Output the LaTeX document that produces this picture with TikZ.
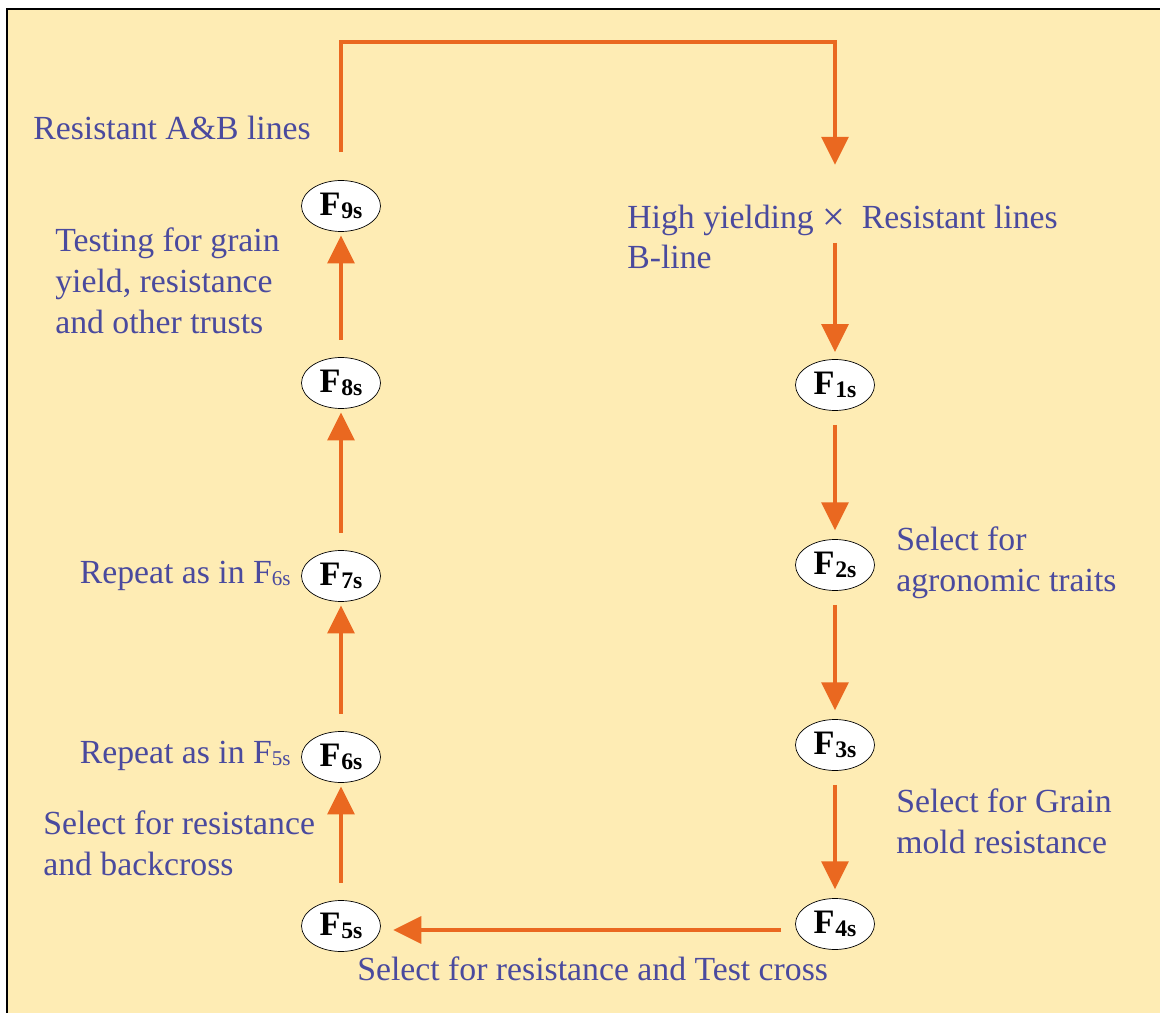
\documentclass[tikz,border=0pt]{standalone}
\usepackage{fontspec}
\setmainfont{Liberation Serif}
\usetikzlibrary{arrows.meta}
\usetikzlibrary{shapes.geometric}

\definecolor{paper}{HTML}{FEECB4}
\definecolor{flowcol}{HTML}{EA6820}
\definecolor{inkblue}{HTML}{4A4A9E}

\tikzset{
  gen/.style={ellipse, draw=black, fill=white, thin, minimum width=1.58cm,
    minimum height=1.02cm, inner sep=0pt},
  flow/.style={draw=flowcol, line width=2.8pt,
    -{Triangle[length=16pt,width=15pt]}},
  note/.style={text=inkblue, inner sep=0pt, align=left,
    font=\fontsize{19.2}{23.2}\selectfont}
}
\newcommand{\gen}[1]{{\fontsize{19.5}{19.5}\selectfont\bfseries F\kern0.5pt\raisebox{-0.15ex}{\fontsize{13.5}{13.5}\selectfont #1s}}}
\newcommand{\gensmall}[1]{F\raisebox{-0.1ex}{\fontsize{12}{12}\selectfont #1s}}

\begin{document}
\begin{tikzpicture}[x=0.02cm, y=-0.02cm]
\useasboundingbox (0,0) rectangle (1160,1013);
\fill[paper] (7,9) rectangle (1160,1013);
\draw[line width=1.2pt] (7,1013) -- (7,9) -- (1160,9);

% generations, left column
\node[gen] (f9) at (341,206) {\gen{9}};
\node[gen] (f8) at (341,383) {\gen{8}};
\node[gen] (f7) at (341,576) {\gen{7}};
\node[gen] (f6) at (341,757) {\gen{6}};
\node[gen] (f5) at (341,926) {\gen{5}};
% generations, right column
\node[gen] (f1) at (835,385) {\gen{1}};
\node[gen] (f2) at (835,565) {\gen{2}};
\node[gen] (f3) at (835,745) {\gen{3}};
\node[gen] (f4) at (835,924) {\gen{4}};

% notes
\node[note, anchor=west] (ablines) at (33,128) {Resistant A\&B lines};
\node[note, anchor=west] (testing) at (55,281) {Testing for grain\\yield, resistance\\and other trusts};
\node[note, anchor=east] (rep6) at (291,576) {Repeat as in \gensmall{6}};
\node[note, anchor=east] (rep5) at (291,756) {Repeat as in \gensmall{5}};
\node[note, anchor=west] (backx) at (43,843) {Select for resistance\\and backcross};
\node[note, anchor=west] (cross) at (627,237) {High yielding\ \raisebox{-0.12ex}{\fontsize{23}{23}\selectfont ×}\ \ Resistant lines\\B-line};
\node[note, anchor=west] (agro) at (896,563) {Select for\\agronomic traits};
\node[note, anchor=west] (mold) at (896,821) {Select for Grain\\mold resistance};
\node[note, anchor=west] (testx) at (357,969) {Select for resistance and Test cross};

% flow
\coordinate (topleft) at (341,42);
\coordinate (crossin) at (835,165);
\coordinate (crossout) at (835,243);
\draw[flow, shorten <=16pt] (f9.north) -- (topleft) -| (crossin);
\draw[flow, shorten >=4pt] (crossout) -- (f1);
\draw[flow, shorten <=8pt, shorten >=5pt] (f1) -- (f2);
\draw[flow, shorten <=8pt, shorten >=5pt] (f2) -- (f3);
\draw[flow, shorten <=8pt, shorten >=5pt] (f3) -- (f4);
\draw[flow, shorten <=8pt, shorten >=7pt] (f4.west |- 0,930) -- (f5.east |- 0,930);
\draw[flow, shorten <=10pt, shorten >=2pt] (f5) -- (f6);
\draw[flow, shorten <=10pt, shorten >=2pt] (f6) -- (f7);
\draw[flow, shorten <=10pt, shorten >=2pt] (f7) -- (f8);
\draw[flow, shorten <=10pt, shorten >=2pt] (f8) -- (f9);
\end{tikzpicture}
\end{document}
